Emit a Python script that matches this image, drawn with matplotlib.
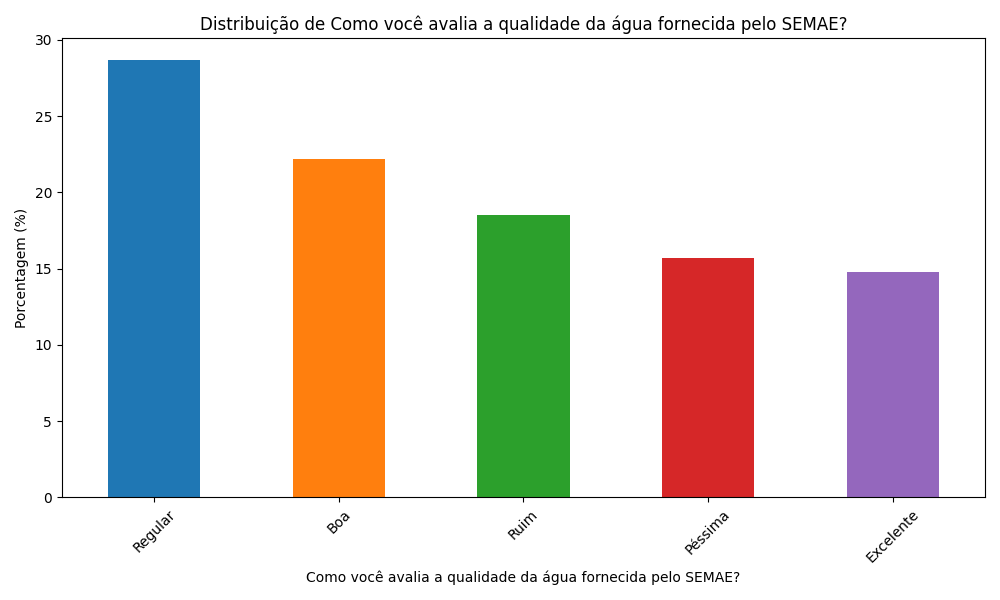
import matplotlib
matplotlib.use("Agg")
import matplotlib.pyplot as plt

categories = ["Regular", "Boa", "Ruim", "Péssima", "Excelente"]
percentages = [28.7, 22.2, 18.5, 15.7, 14.8]
colors = ["#1f77b4", "#ff7f0e", "#2ca02c", "#d62728", "#9467bd"]

question = "Como você avalia a qualidade da água fornecida pelo SEMAE?"

fig, ax = plt.subplots(figsize=(10, 6), dpi=100)
ax.bar(range(len(categories)), percentages, width=0.5, color=colors)
ax.set_xticks(range(len(categories)))
ax.set_xticklabels(categories, rotation=45)
ax.set_xlim(-0.5, len(categories) - 0.5)
ax.set_title(f"Distribuição de {question}")
ax.set_xlabel(question)
ax.set_ylabel("Porcentagem (%)")
plt.tight_layout()
plt.savefig("out.png")
